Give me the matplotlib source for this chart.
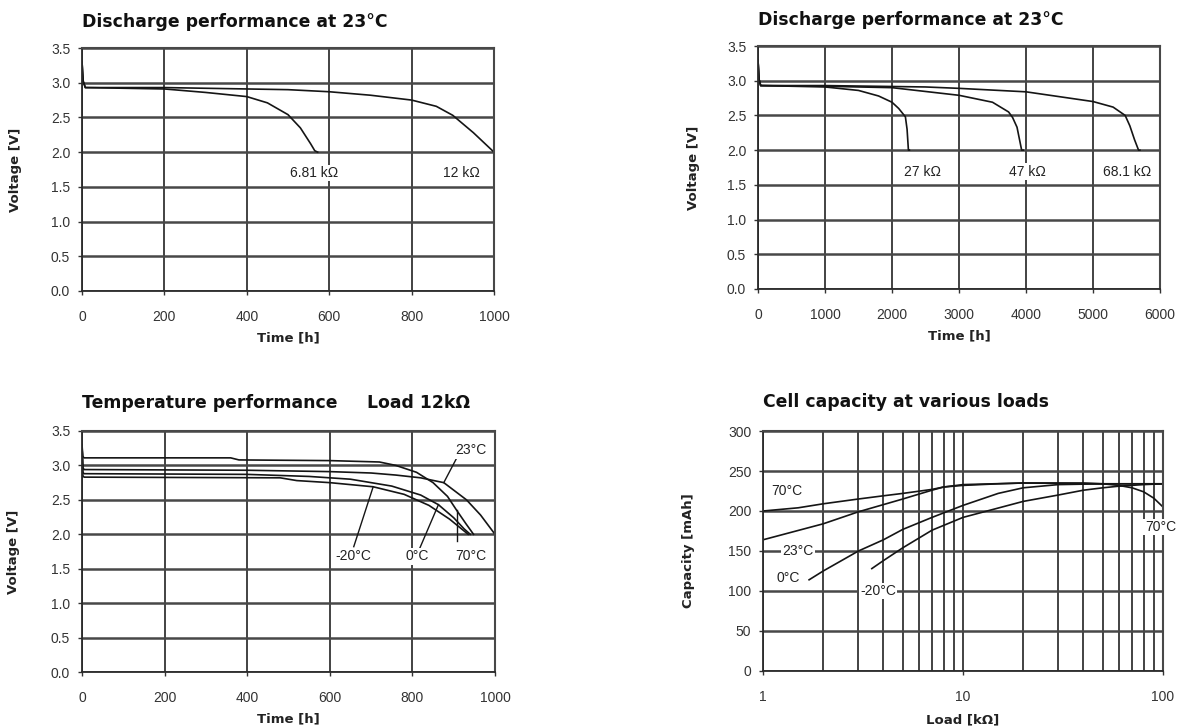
import matplotlib.pyplot as plt
from matplotlib.ticker import FixedLocator, FixedFormatter

plt.rcParams['font.family'] = ['Liberation Sans', 'DejaVu Sans']

# ============================================================
# Data
# ============================================================

# Discharge at 23 C, 6.81 kOhm and 12 kOhm loads (time in h, voltage in V)
t_681 = [0, 3, 8, 200, 300, 400, 450, 500, 530, 555, 565, 572]
v_681 = [3.3, 3.02, 2.93, 2.91, 2.86, 2.80, 2.71, 2.54, 2.35, 2.12, 2.02, 2.0]
t_12k = [0, 3, 8, 200, 400, 500, 600, 700, 800, 860, 900, 950, 1000]
v_12k = [3.3, 3.02, 2.93, 2.93, 2.91, 2.90, 2.87, 2.82, 2.75, 2.66, 2.53, 2.28, 2.0]

# Discharge at 23 C, 27 / 47 / 68.1 kOhm loads
t_27k = [0, 15, 40, 1000, 1500, 1800, 2000, 2100, 2200, 2225, 2245, 2260]
v_27k = [3.3, 3.02, 2.93, 2.91, 2.86, 2.78, 2.69, 2.60, 2.48, 2.30, 2.0, 2.0]
t_47k = [0, 15, 40, 1000, 2000, 3000, 3500, 3740, 3800, 3866, 3910, 3935, 3960]
v_47k = [3.3, 3.02, 2.93, 2.92, 2.90, 2.79, 2.69, 2.55, 2.47, 2.33, 2.12, 2.0, 2.0]
t_68k = [0, 15, 40, 1000, 2500, 3000, 4000, 5000, 5300, 5480, 5550, 5620, 5680, 5700]
v_68k = [3.3, 3.02, 2.93, 2.93, 2.91, 2.89, 2.84, 2.70, 2.62, 2.50, 2.35, 2.15, 2.0, 2.0]

# Temperature performance, load 12 kOhm
t_70c = [0, 2, 5, 360, 380, 600, 720, 760, 810, 850, 885, 907, 930, 948]
v_70c = [3.3, 3.13, 3.11, 3.11, 3.08, 3.07, 3.05, 3.0, 2.90, 2.75, 2.55, 2.35, 2.15, 2.0]
t_23c = [0, 2, 5, 400, 600, 700, 760, 820, 876, 931, 965, 1000]
v_23c = [3.3, 2.97, 2.94, 2.93, 2.91, 2.89, 2.86, 2.82, 2.75, 2.50, 2.28, 2.0]
t_0c = [0, 2, 5, 400, 550, 650, 750, 820, 863, 900, 925, 940]
v_0c = [3.3, 2.90, 2.88, 2.87, 2.84, 2.80, 2.70, 2.57, 2.43, 2.24, 2.08, 2.0]
t_m20c = [0, 2, 5, 480, 520, 600, 705, 780, 840, 890, 935]
v_m20c = [3.3, 2.85, 2.83, 2.82, 2.78, 2.75, 2.69, 2.58, 2.42, 2.22, 2.0]

# Cell capacity vs load (load in kOhm, capacity in mAh)
load_70c = [1, 1.5, 2, 3, 4, 5, 7, 8, 10, 15, 20, 30, 40, 50, 60, 70, 80, 90, 100]
cap_70c = [200, 204, 209, 215, 219, 222, 227, 230, 232, 234, 235, 235, 235, 234, 232, 229, 224, 216, 205]
load_23c = [1, 2, 3, 4, 5, 6, 7, 8, 10, 20, 50, 100]
cap_23c = [164, 184, 199, 208, 215, 221, 226, 230, 233, 235, 234, 234]
load_0c = [1.7, 2, 3, 4, 5, 7, 10, 15, 20, 30, 50, 100]
cap_0c = [114, 125, 150, 164, 177, 192, 207, 222, 229, 233, 234, 234]
load_m20c = [3.5, 4, 5, 7, 10, 20, 30, 40, 50, 60, 80, 100]
cap_m20c = [128, 138, 154, 176, 192, 212, 220, 226, 229, 231, 233, 234]

# ============================================================
# Styles
# ============================================================
W, H = 1195, 727
ink = "#151515"
tick_col = "#333333"
title_font = dict(family="DejaVu Sans", fontweight="bold", fontsize=12.4, color="#111111")
label_font = dict(family="DejaVu Sans", fontweight="bold", fontsize=9.5, color="#222222")
note_font = dict(fontsize=10, color="#222222")
note_box = dict(facecolor="white", edgecolor="none", pad=1.0)


def px_axes(left, top, right, bottom):
    return [left / W, 1 - bottom / H, (right - left) / W, (bottom - top) / H]


def style_axes(ax):
    ax.set_axisbelow(True)
    ax.grid(True, axis="y", color="#484848", lw=1.8)
    ax.grid(True, axis="x", which="both", color="#222222", lw=1.2)
    for side in ["top", "right"]:
        ax.spines[side].set_color("#484848")
        ax.spines[side].set_linewidth(1.5)
    for side in ["left", "bottom"]:
        ax.spines[side].set_color("#2a2a2a")
        ax.spines[side].set_linewidth(1.3)
    ax.tick_params(axis="both", which="major", direction="out", length=3,
                   width=1, color="#333333", labelcolor=tick_col, labelsize=10)
    ax.tick_params(axis="y", pad=5.5)
    ax.tick_params(axis="x", pad=11)
    ax.tick_params(axis="x", which="minor", length=0)


fig = plt.figure(figsize=(W / 100, H / 100), dpi=100)

# ============================================================
# Panel 1
# ============================================================
ax1 = fig.add_axes(px_axes(82, 48, 494, 291))
ax1.plot(t_681, v_681, color=ink, lw=1.2)
ax1.plot(t_12k, v_12k, color=ink, lw=1.2)
ax1.set_xlim(0, 1000)
ax1.set_ylim(0, 3.5)
ax1.set_xticks(range(0, 1001, 200))
ax1.set_yticks([0, 0.5, 1.0, 1.5, 2.0, 2.5, 3.0, 3.5])
ax1.set_yticklabels(["0.0", "0.5", "1.0", "1.5", "2.0", "2.5", "3.0", "3.5"])
style_axes(ax1)
ax1.set_title("Discharge performance at 23°C", loc="left", pad=15, **title_font)
ax1.set_xlabel("Time [h]", **label_font)
ax1.set_ylabel("Voltage [V]", **label_font)
ax1.xaxis.set_label_coords(0.5, -0.165)
ax1.yaxis.set_label_coords(-0.146, 0.5)
ax1.text(563, 1.70, "6.81 kΩ", ha="center", va="center", bbox=note_box, **note_font)
ax1.text(922, 1.70, "12 kΩ", ha="center", va="center", bbox=note_box, **note_font)

# ============================================================
# Panel 2
# ============================================================
ax2 = fig.add_axes(px_axes(758, 46, 1160, 289))
for t, v in [(t_27k, v_27k), (t_47k, v_47k), (t_68k, v_68k)]:
    ax2.plot(t, v, color=ink, lw=1.2)
ax2.set_xlim(0, 6000)
ax2.set_ylim(0, 3.5)
ax2.set_xticks(range(0, 6001, 1000))
ax2.set_yticks([0, 0.5, 1.0, 1.5, 2.0, 2.5, 3.0, 3.5])
ax2.set_yticklabels(["0.0", "0.5", "1.0", "1.5", "2.0", "2.5", "3.0", "3.5"])
style_axes(ax2)
ax2.set_title("Discharge performance at 23°C", loc="left", pad=15, **title_font)
ax2.set_xlabel("Time [h]", **label_font)
ax2.set_ylabel("Voltage [V]", **label_font)
ax2.xaxis.set_label_coords(0.5, -0.165)
ax2.yaxis.set_label_coords(-0.144, 0.5)
ax2.text(2448, 1.69, "27 kΩ", ha="center", va="center", bbox=note_box, **note_font)
ax2.text(4015, 1.69, "47 kΩ", ha="center", va="center", bbox=note_box, **note_font)
ax2.text(5507, 1.69, "68.1 kΩ", ha="center", va="center", bbox=note_box, **note_font)

# ============================================================
# Panel 3
# ============================================================
ax3 = fig.add_axes(px_axes(82, 431, 495, 672))
for t, v in [(t_70c, v_70c), (t_23c, v_23c), (t_0c, v_0c), (t_m20c, v_m20c)]:
    ax3.plot(t, v, color=ink, lw=1.2)
ax3.set_xlim(0, 1000)
ax3.set_ylim(0, 3.5)
ax3.set_xticks(range(0, 1001, 200))
ax3.set_yticks([0, 0.5, 1.0, 1.5, 2.0, 2.5, 3.0, 3.5])
ax3.set_yticklabels(["0.0", "0.5", "1.0", "1.5", "2.0", "2.5", "3.0", "3.5"])
style_axes(ax3)
ax3.set_title("Temperature performance", loc="left", pad=16.5, **title_font)
ax3.text(0.69, 1 + 23 / 241, "Load 12kΩ", transform=ax3.transAxes,
         ha="left", va="baseline", **title_font)
ax3.set_xlabel("Time [h]", **label_font)
ax3.set_ylabel("Voltage [V]", **label_font)
ax3.xaxis.set_label_coords(0.5, -0.166)
ax3.yaxis.set_label_coords(-0.150, 0.5)

# leader lines from the temperature labels to their curves
leaders3 = {
    "23°C": ((942, 3.22), (911, 3.15), (876, 2.75)),
    "-20°C": ((656, 1.68), (658, 1.82), (705, 2.69)),
    "0°C": ((811, 1.68), (818, 1.80), (863, 2.43)),
    "70°C": ((942, 1.68), (907, 1.90), (907, 2.35)),
}
for name, (txt, p0, p1) in leaders3.items():
    ax3.plot([p0[0], p1[0]], [p0[1], p1[1]], color=ink, lw=1.0)
    ax3.text(txt[0], txt[1], name, ha="center", va="center", bbox=note_box, **note_font)

# ============================================================
# Panel 4
# ============================================================
ax4 = fig.add_axes(px_axes(763, 431, 1163, 671))
for x, y in [(load_70c, cap_70c), (load_23c, cap_23c), (load_0c, cap_0c), (load_m20c, cap_m20c)]:
    ax4.plot(x, y, color=ink, lw=1.2)
ax4.set_xscale("log")
ax4.set_xlim(1, 100)
ax4.set_ylim(0, 300)
ax4.xaxis.set_major_locator(FixedLocator([1, 10, 100]))
ax4.xaxis.set_major_formatter(FixedFormatter(["1", "10", "100"]))
minor = [m * d for d in (1, 10) for m in range(2, 10)]
ax4.xaxis.set_minor_locator(FixedLocator(minor))
ax4.xaxis.set_minor_formatter(FixedFormatter([""] * len(minor)))
ax4.set_yticks(range(0, 301, 50))
style_axes(ax4)
ax4.set_title("Cell capacity at various loads", loc="left", pad=17, **title_font)
ax4.set_xlabel("Load [kΩ]", **label_font)
ax4.set_ylabel("Capacity [mAh]", **label_font)
ax4.xaxis.set_label_coords(0.5, -0.175)
ax4.yaxis.set_label_coords(-0.17, 0.5)
labels4 = {"70°C": (1.32, 225), "23°C": (1.5, 150), "0°C": (1.33, 116),
           "-20°C": (3.76, 100)}
for name, (x, y) in labels4.items():
    ax4.text(x, y, name, ha="center", va="center", bbox=note_box, **note_font)
ax4.text(97, 180, "70°C", ha="center", va="center", bbox=note_box, clip_on=False, **note_font)

fig.savefig("out.png", dpi=100)
